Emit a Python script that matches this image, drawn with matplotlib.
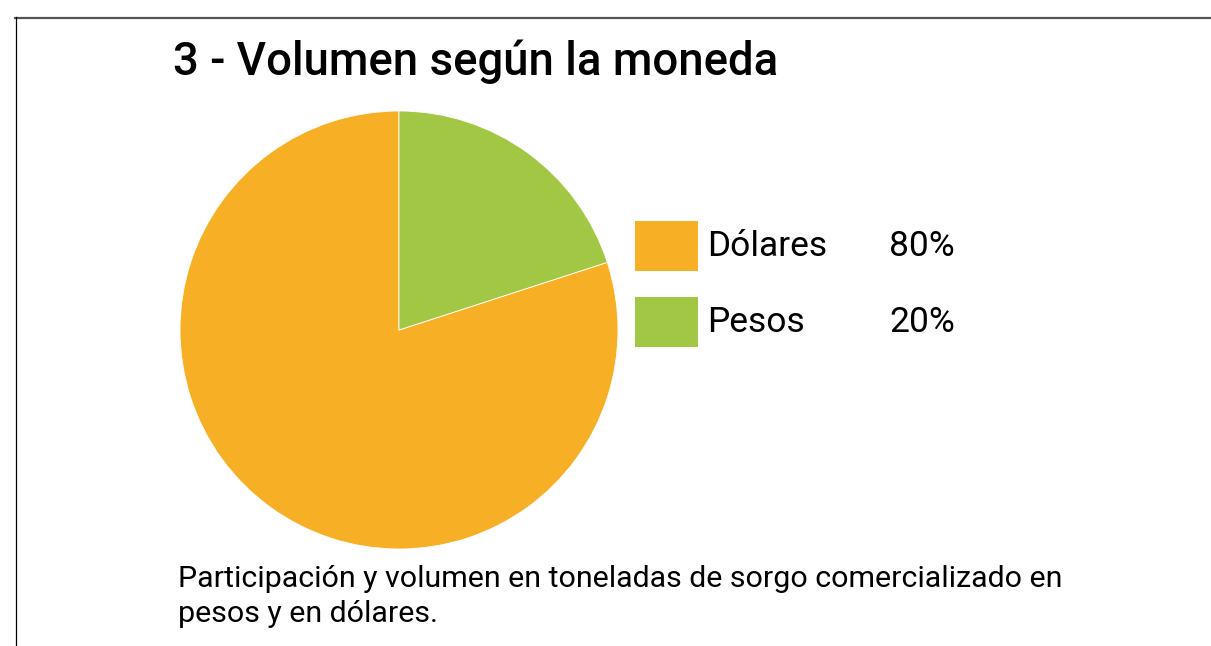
import matplotlib.pyplot as plt
from matplotlib.lines import Line2D
from matplotlib.patches import Rectangle

# Data
labels = ["Dólares", "Pesos"]
shares = [80, 20]
colors = ["#F7B025", "#A2C745"]

W, H = 1211, 646
plt.rcParams['font.family'] = ['Roboto', 'DejaVu Sans']

fig = plt.figure(figsize=(W / 100, H / 100), dpi=100)

def fx(px):
    return px / W

def fy(py):
    return 1 - py / H

# Frame lines (top and left)
fig.add_artist(Line2D([fx(15), 1], [fy(17.5), fy(17.5)], color="#555555", lw=1.6))
fig.add_artist(Line2D([fx(15.5), fx(15.5)], [fy(17), 0], color="black", lw=0.9))

# Title
fig.text(fx(173), fy(75), "3 - Volumen según la moneda", fontsize=32.8,
         fontweight="medium", color="black", va="baseline", ha="left")

# Pie
cx, cy, r = 399, 330, 219
ax = fig.add_axes([fx(cx - r), fy(cy + r), fx(2 * r), (2 * r) / H])
ax.pie(shares, colors=colors, startangle=90, counterclock=True, radius=1,
       wedgeprops=dict(edgecolor="white", linewidth=0.6))
ax.set_xlim(-1, 1)
ax.set_ylim(-1, 1)
ax.set_aspect("equal")
ax.axis("off")

# Legend
y0 = 221
for i, (lab, val, col) in enumerate(zip(labels, shares, colors)):
    top = y0 + i * 76
    fig.add_artist(Rectangle((fx(635), fy(top + 50)), fx(63), 50 / H,
                             transform=fig.transFigure, facecolor=col, edgecolor="none"))
    fig.text(fx(707), fy(top + 35), lab, fontsize=25.5, va="baseline", ha="left")
    fig.text(fx(889), fy(top + 35), f"{val}%", fontsize=25.5, va="baseline", ha="left")

# Caption
fig.text(fx(178), fy(587), "Participación y volumen en toneladas de sorgo comercializado en",
         fontsize=21.9, va="baseline", ha="left")
fig.text(fx(178), fy(622), "pesos y en dólares.", fontsize=21.9, va="baseline", ha="left")

fig.savefig("out.png", dpi=100, facecolor="white")
